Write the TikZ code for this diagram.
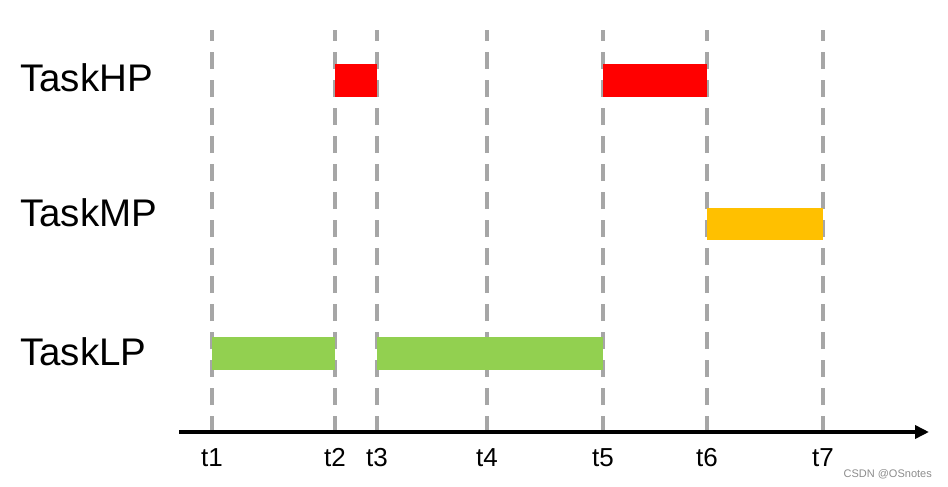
\documentclass[tikz,border=0pt]{standalone}
\usepackage{fontspec}
\setmainfont{Liberation Sans}
\usetikzlibrary{arrows.meta}
\definecolor{hpred}{HTML}{FF0000}
\definecolor{mporange}{HTML}{FFC000}
\definecolor{lpgreen}{HTML}{92D050}
\definecolor{dashgray}{HTML}{A6A6A6}
\definecolor{wmgray}{HTML}{8C8C8C}
\tikzset{
  guide/.style={draw=dashgray, line width=4pt, dash pattern=on 17pt off 11pt},
  tasklabel/.style={anchor=base west, inner sep=0pt, font=\fontsize{38.5}{41}\selectfont},
  ticklabel/.style={anchor=base, inner sep=0pt, font=\fontsize{26}{28}\selectfont},
  axis/.style={draw=black, line width=3.5pt, -{Triangle[length=14pt,width=13pt]}},
}
\begin{document}
\begin{tikzpicture}[x=1pt,y=-1pt]
\useasboundingbox (0,0) rectangle (948,487);
% guide lines
\foreach \n/\x in {1/212,2/335,3/377,4/487,5/603,6/707,7/823}{
  \coordinate (b\n) at (\x,433);
  \coordinate (top\n) at (\x,30);
  \draw[guide] (b\n) -- (top\n);
  \node[ticklabel] (t\n) at (\x,466) {t\n};
}
% bars
\fill[hpred] (335,64) rectangle (377,96.5);
\fill[hpred] (603,64) rectangle (707,96.5);
\fill[mporange] (707,207.5) rectangle (823,240);
\fill[lpgreen] (212,337) rectangle (335,370);
\fill[lpgreen] (377,337) rectangle (603,370);
% axis
\coordinate (axstart) at (179,432);
\coordinate (axend) at (929,432);
\draw[axis] (axstart) -- (axend);
% task labels
\node[tasklabel] (hp) at (20,92) {TaskHP};
\node[tasklabel] (mp) at (20,226.5) {TaskMP};
\node[tasklabel] (lp) at (20,365.5) {TaskLP};
% watermark
\node[anchor=base east, inner sep=0pt, text=wmgray, font=\fontsize{11}{12}\selectfont] (wm) at (932,477) {CSDN @OSnotes};
\end{tikzpicture}
\end{document}
